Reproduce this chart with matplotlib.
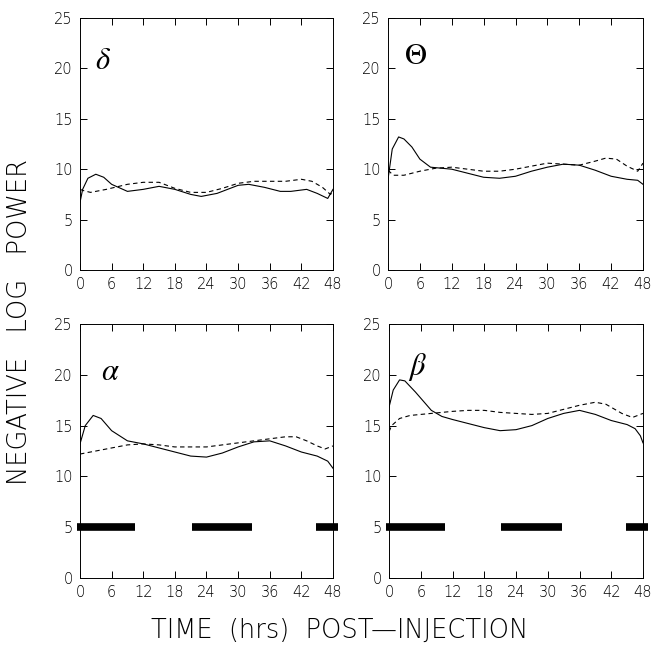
import matplotlib.pyplot as plt
import numpy as np

# EEG band power after injection, solid vs dashed condition
hours_solid = {
    'delta': [0, 0.5, 1.5, 3, 4.5, 6, 9, 12, 15, 18, 21, 23, 26, 30, 32, 35, 38, 40, 43, 45, 47, 48],
    'theta': [0, 0.8, 2, 3, 4.5, 6, 8, 12, 15, 18, 21, 24, 27, 30, 33, 36, 39, 42, 45, 47, 48],
    'alpha': [0, 1, 2.5, 4, 6, 9, 12, 15, 18, 21, 24, 27, 30, 33, 36, 39, 42, 45, 47, 48],
    'beta':  [0, 0.8, 2, 3, 5, 8, 10, 12, 15, 18, 21, 24, 27, 30, 33, 36, 39, 42, 45, 46.5, 47.5, 48],
}
power_solid = {
    'delta': [6.7, 8.0, 9.1, 9.5, 9.2, 8.5, 7.8, 8.0, 8.3, 8.0, 7.5, 7.3, 7.6, 8.4, 8.5, 8.2, 7.8, 7.8, 8.0, 7.6, 7.1, 8.0],
    'theta': [9.0, 12.0, 13.2, 13.0, 12.2, 11.0, 10.2, 10.0, 9.6, 9.2, 9.1, 9.3, 9.8, 10.2, 10.5, 10.4, 9.9, 9.3, 9.0, 8.9, 8.5],
    'alpha': [13.2, 15.0, 16.0, 15.7, 14.5, 13.5, 13.2, 12.8, 12.4, 12.0, 11.9, 12.3, 12.9, 13.4, 13.5, 13.0, 12.4, 12.0, 11.5, 10.8],
    'beta':  [16.8, 18.5, 19.5, 19.4, 18.3, 16.5, 15.9, 15.6, 15.2, 14.8, 14.5, 14.6, 15.0, 15.7, 16.2, 16.5, 16.1, 15.5, 15.1, 14.7, 14.0, 13.3],
}
hours_dash = {
    'delta': [0, 0.5, 2, 5, 9, 12, 15, 18, 21, 24, 27, 30, 33, 36, 39, 42, 44, 46, 47.5, 48],
    'theta': [0, 1, 3, 6, 9, 12, 15, 18, 21, 24, 27, 30, 33, 36, 39, 41, 43, 45, 47, 48],
    'alpha': [0, 3, 6, 9, 12, 15, 18, 21, 24, 27, 30, 33, 36, 39, 41, 43, 45, 46.5, 48],
    'beta':  [0, 0.5, 2, 4, 8, 12, 15, 18, 21, 24, 27, 30, 33, 36, 39, 41, 44, 46, 48],
}
power_dash = {
    'delta': [8.0, 7.9, 7.7, 8.0, 8.5, 8.7, 8.7, 8.1, 7.7, 7.7, 8.1, 8.6, 8.8, 8.8, 8.8, 9.0, 8.8, 8.2, 7.5, 7.7],
    'theta': [9.9, 9.4, 9.4, 9.8, 10.1, 10.2, 10.0, 9.8, 9.8, 10.0, 10.3, 10.6, 10.5, 10.4, 10.8, 11.1, 11.0, 10.3, 9.8, 10.6],
    'alpha': [12.2, 12.5, 12.8, 13.1, 13.2, 13.1, 12.9, 12.9, 12.9, 13.1, 13.3, 13.5, 13.7, 13.9, 13.9, 13.5, 13.0, 12.7, 13.0],
    'beta':  [14.4, 15.0, 15.7, 16.0, 16.2, 16.4, 16.5, 16.5, 16.3, 16.2, 16.1, 16.2, 16.6, 17.0, 17.3, 17.1, 16.2, 15.8, 16.2],
}
band_symbols = {'delta': r'$\delta$', 'theta': r'$\Theta$', 'alpha': r'$\alpha$', 'beta': r'$\beta$'}

# dark periods (black bars) at y = 5
dark_start = [-0.6, 21.2, 44.8]
dark_end = [10.5, 32.7, 49.0]
bar_level = 5

ylabel = 'NEGATIVE   LOG   POWER'
xlabel = 'TIME  (hrs)  POST\u2014INJECTION'

plt.rcParams['font.family'] = ['DejaVu Sans']
plt.rcParams['mathtext.fontset'] = 'stix'

fig = plt.figure(figsize=(6.52, 6.5), dpi=100)
W, H = 652, 650
boxes = {
    'delta': (80, 18, 333, 270),
    'theta': (388, 18, 643, 270),
    'alpha': (80, 324, 333, 578),
    'beta':  (389, 324, 643, 578),
}
sym_pos = {'delta': (2.8, 20.8), 'theta': (3.0, 21.3), 'alpha': (4.0, 20.3), 'beta': (3.5, 20.8)}

for band, (x0, y0, x1, y1) in boxes.items():
    ax = fig.add_axes([x0 / W, 1 - y1 / H, (x1 - x0) / W, (y1 - y0) / H])
    ax.plot(hours_solid[band], power_solid[band], color='black', lw=0.8)
    ax.plot(hours_dash[band], power_dash[band], color='black', lw=0.8,
            linestyle=(0, (4, 3)))
    if band in ('alpha', 'beta'):
        for s, e in zip(dark_start, dark_end):
            ax.plot([s, e], [bar_level, bar_level], color='black', lw=5.5,
                    solid_capstyle='butt', clip_on=False)
    ax.text(*sym_pos[band], band_symbols[band], fontsize=22, ha='left', va='center')
    ax.set_xlim(0, 48)
    ax.set_ylim(0, 25)
    ax.set_xticks(np.arange(0, 49, 6))
    ax.set_yticks(np.arange(0, 26, 5))
    ax.tick_params(direction='in', top=True, right=True, length=5, width=0.7,
                   labelsize=10.5, pad=5)
    for lab in ax.get_xticklabels() + ax.get_yticklabels():
        lab.set_fontweight('light')
    for sp in ax.spines.values():
        sp.set_linewidth(0.7)

fig.text(20 / W, 1 - 322 / H, ylabel, rotation=90, ha='center',
         va='center', fontsize=18.5, fontweight='light')
fig.text(340 / W, 1 - 630 / H, xlabel, ha='center',
         va='center', fontsize=18.5, fontweight='light')

fig.savefig('out.png', dpi=100)
